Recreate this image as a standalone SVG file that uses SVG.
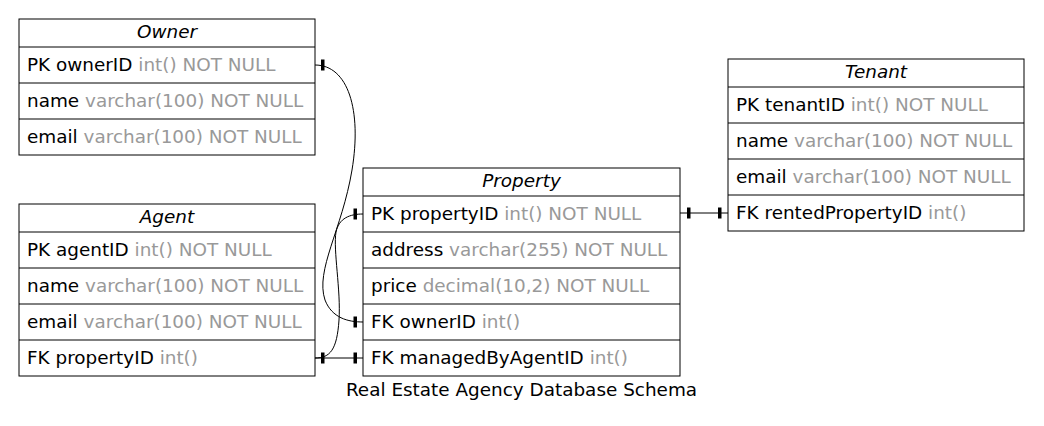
<svg xmlns="http://www.w3.org/2000/svg" width="1044" height="426" viewBox="0 0 1044 426">
<style>
text{font-family:"DejaVu Sans",sans-serif;font-size:18.4px;fill:#000}
.h{font-style:italic;text-anchor:middle}
.g{fill:#999999}
.box{fill:#fff;stroke:#000;stroke-width:1}
.ln{fill:none;stroke:#000;stroke-width:1}
.tee{fill:#000;stroke:#000;stroke-width:1}
</style>
<rect width="1044" height="426" fill="#fff"/>
<g id="connectors">
<path class="ln" d="M315,65 C348,65 362,110 352,170 C342,230 315,270 325,300 C332,318 348,322 363,322"/>
<path class="ln" d="M315,358 C330,358 337,350 339,320 C341,290 333,250 336,232 C339,218 350,214 363,214"/>
<path class="ln" d="M315,358 L363,358"/>
<path class="ln" d="M680,213 L728,213"/>
<rect class="tee" x="321.5" y="60" width="2.5" height="10"/>
<rect class="tee" x="354" y="317" width="2.5" height="10"/>
<rect class="tee" x="321.5" y="353" width="2.5" height="10"/>
<rect class="tee" x="354" y="209" width="2.5" height="10"/>
<rect class="tee" x="354" y="353" width="2.5" height="10"/>
<rect class="tee" x="687.5" y="208" width="2.5" height="10"/>
<rect class="tee" x="718.5" y="208" width="2.5" height="10"/>
</g>
<g id="owner">
<rect class="box" x="19" y="19" width="296" height="136"/>
<path class="ln" d="M19,47H315M19,83H315M19,119H315"/>
<text class="h" x="167" y="38">Owner</text>
<text x="27" y="71">PK ownerID <tspan class="g">int() NOT NULL</tspan></text>
<text x="27" y="107">name <tspan class="g">varchar(100) NOT NULL</tspan></text>
<text x="27" y="143">email <tspan class="g">varchar(100) NOT NULL</tspan></text>
</g>
<g id="agent">
<rect class="box" x="19" y="204" width="296" height="172"/>
<path class="ln" d="M19,232H315M19,268H315M19,304H315M19,340H315"/>
<text class="h" x="167" y="223">Agent</text>
<text x="27" y="256">PK agentID <tspan class="g">int() NOT NULL</tspan></text>
<text x="27" y="292">name <tspan class="g">varchar(100) NOT NULL</tspan></text>
<text x="27" y="328">email <tspan class="g">varchar(100) NOT NULL</tspan></text>
<text x="27" y="364">FK propertyID <tspan class="g">int()</tspan></text>
</g>
<g id="property">
<rect class="box" x="363" y="168" width="317" height="208"/>
<path class="ln" d="M363,196H680M363,232H680M363,268H680M363,304H680M363,340H680"/>
<text class="h" x="521.5" y="187">Property</text>
<text x="371" y="220">PK propertyID <tspan class="g">int() NOT NULL</tspan></text>
<text x="371" y="256">address <tspan class="g">varchar(255) NOT NULL</tspan></text>
<text x="371" y="292">price <tspan class="g">decimal(10,2) NOT NULL</tspan></text>
<text x="371" y="328">FK ownerID <tspan class="g">int()</tspan></text>
<text x="371" y="364">FK managedByAgentID <tspan class="g">int()</tspan></text>
</g>
<g id="tenant">
<rect class="box" x="728" y="59" width="296" height="172"/>
<path class="ln" d="M728,87H1024M728,123H1024M728,159H1024M728,195H1024"/>
<text class="h" x="876" y="78">Tenant</text>
<text x="736" y="111">PK tenantID <tspan class="g">int() NOT NULL</tspan></text>
<text x="736" y="147">name <tspan class="g">varchar(100) NOT NULL</tspan></text>
<text x="736" y="183">email <tspan class="g">varchar(100) NOT NULL</tspan></text>
<text x="736" y="219">FK rentedPropertyID <tspan class="g">int()</tspan></text>
</g>
<g id="title">
<text x="521.5" y="396" text-anchor="middle">Real Estate Agency Database Schema</text>
</g>
</svg>
